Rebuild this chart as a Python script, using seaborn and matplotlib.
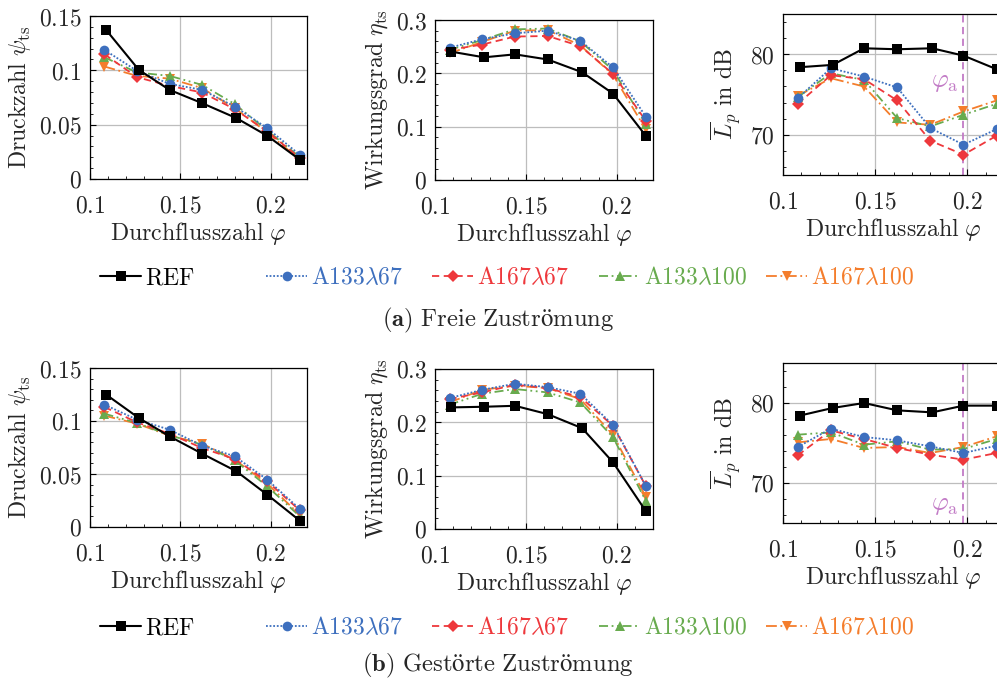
import numpy as np
import pandas as pd
import matplotlib
matplotlib.use("Agg")
import matplotlib.pyplot as plt
from matplotlib.ticker import FuncFormatter, MultipleLocator, AutoMinorLocator
import seaborn as sns

# ---------------- data ----------------
phi_ref = [0.109, 0.127, 0.144, 0.162, 0.181, 0.198, 0.216]
phi = [0.108, 0.126, 0.144, 0.162, 0.180, 0.198, 0.216]
phi_a = 0.198

series_names = ["REF", "A133λ67", "A167λ67", "A133λ100", "A167λ100"]
series_labels = [r"$\mathrm{REF}$", r"$\mathrm{A133}\lambda\mathrm{67}$", r"$\mathrm{A167}\lambda\mathrm{67}$",
                 r"$\mathrm{A133}\lambda\mathrm{100}$", r"$\mathrm{A167}\lambda\mathrm{100}$"]

# (a) Freie Zuströmung
psi_a_ref = [0.137, 0.1004, 0.082, 0.0698, 0.056, 0.0398, 0.0178]
psi_a_133_67 = [0.1188, 0.0995, 0.0876, 0.082, 0.0667, 0.0468, 0.0223]
psi_a_167_67 = [0.1148, 0.0937, 0.0857, 0.0796, 0.0643, 0.0438, 0.0193]
psi_a_133_100 = [0.112, 0.098, 0.0949, 0.0866, 0.069, 0.0447, 0.0202]
psi_a_167_100 = [0.1035, 0.0949, 0.0924, 0.0836, 0.0652, 0.0429, 0.0178]

eta_a_ref = [0.2406, 0.230, 0.2356, 0.226, 0.202, 0.162, 0.083]
eta_a_133_67 = [0.248, 0.264, 0.275, 0.280, 0.261, 0.211, 0.119]
eta_a_167_67 = [0.244, 0.254, 0.269, 0.270, 0.251, 0.199, 0.111]
eta_a_133_100 = [0.244, 0.2625, 0.2825, 0.284, 0.260, 0.206, 0.105]
eta_a_167_100 = [0.2375, 0.259, 0.280, 0.281, 0.2525, 0.197, 0.095]

lp_a_ref = [78.39, 78.68, 80.74, 80.62, 80.74, 79.83, 78.14]
lp_a_133_67 = [74.55, 78.26, 77.23, 75.87, 70.83, 68.76, 70.7]
lp_a_167_67 = [73.84, 77.4, 76.9, 74.26, 69.26, 67.52, 69.88]
lp_a_133_100 = [74.67, 77.64, 76.8, 72.07, 71.03, 72.48, 73.84]
lp_a_167_100 = [74.83, 77.02, 75.99, 71.53, 71.24, 72.89, 74.26]

# (b) Gestörte Zuströmung
psi_b_ref = [0.1248, 0.1028, 0.0855, 0.0692, 0.0525, 0.0305, 0.006]
psi_b_133_67 = [0.1154, 0.1013, 0.0918, 0.0767, 0.0667, 0.0447, 0.017]
psi_b_167_67 = [0.1132, 0.0987, 0.088, 0.0745, 0.0641, 0.0431, 0.0157]
psi_b_133_100 = [0.1069, 0.0981, 0.0865, 0.0777, 0.0629, 0.0384, 0.0101]
psi_b_167_100 = [0.105, 0.0975, 0.0862, 0.0786, 0.0635, 0.0409, 0.0116]

eta_b_ref = [0.228, 0.2292, 0.231, 0.2154, 0.189, 0.125, 0.0338]
eta_b_133_67 = [0.2455, 0.261, 0.2724, 0.266, 0.2536, 0.195, 0.081]
eta_b_167_67 = [0.2436, 0.2561, 0.2705, 0.2642, 0.2473, 0.1935, 0.0808]
eta_b_133_100 = [0.233, 0.2536, 0.2624, 0.2561, 0.2373, 0.172, 0.053]
eta_b_167_100 = [0.2373, 0.261, 0.2686, 0.2642, 0.2436, 0.1766, 0.0607]

lp_b_ref = [78.42, 79.38, 80.0, 79.08, 78.83, 79.67, 79.67]
lp_b_133_67 = [74.5, 76.79, 75.75, 75.33, 74.58, 73.75, 74.67]
lp_b_167_67 = [73.46, 76.58, 75.5, 74.38, 73.54, 72.92, 73.75]
lp_b_133_100 = [76.04, 76.33, 74.79, 75.21, 74.17, 74.25, 75.5]
lp_b_167_100 = [75.08, 75.5, 74.38, 74.5, 73.75, 74.5, 75.83]

# ---------------- style ----------------
sns.set_style("white")
plt.rcParams["mathtext.fontset"] = "cm"
plt.rcParams["font.family"] = ["DejaVu Serif"]
plt.rcParams["axes.unicode_minus"] = False

colors = ["black", "#3d6fbe", "#ee383c", "#68ab4e", "#f47d2c"]
markers = ["s", "o", "D", "^", "v"]
msizes = [7.0, 7.0, 6.0, 7.5, 7.5]
lstyles = ["-", (0, (1, 1)), (0, (4, 2.5)), (0, (5, 2, 1, 2, 1, 2)), (0, (6, 2, 1, 2))]
lwidths = [1.5, 1.3, 1.3, 1.3, 1.3]
FS_LAB = 17.2
FS_TICK = 17.0
FS_LEG = 17.0
FS_CAP = 17.8
purple = "#c27bc6"

W, H = 997, 684
fig = plt.figure(figsize=(W / 100, H / 100), dpi=100)


def rect(l, r, t, b):
    return [l / W, 1 - b / H, (r - l) / W, (b - t) / H]


def fmt(v, pos):
    return r"$%g$" % round(v, 4)


def draw_panel(ax, ys, ylim, ymajor, ylabel, vline=False, vtext_y=None):
    for i, yv in enumerate(ys):
        xs = phi_ref if i == 0 else phi
        df = pd.DataFrame({"phi": xs, "val": yv})
        sns.lineplot(data=df, x="phi", y="val", ax=ax, color=colors[i], marker=markers[i],
                     markersize=msizes[i], markeredgewidth=0, linestyle=lstyles[i],
                     linewidth=lwidths[i], label=series_labels[i], legend=False, zorder=3 + (5 - i) * 0.1)
    ax.set_xlim(0.1, 0.22)
    ax.set_ylim(*ylim)
    ax.xaxis.set_major_locator(MultipleLocator(0.05))
    ax.xaxis.set_minor_locator(AutoMinorLocator(5))
    ax.yaxis.set_major_locator(MultipleLocator(ymajor))
    ax.yaxis.set_minor_locator(AutoMinorLocator(5))
    ax.xaxis.set_major_formatter(FuncFormatter(fmt))
    ax.yaxis.set_major_formatter(FuncFormatter(fmt))
    ax.grid(True, which="major", color="#bdbdbd", linewidth=0.9)
    ax.tick_params(which="both", direction="in", bottom=True, left=True, top=False, right=False,
                   labelsize=FS_TICK, color="black")
    ax.tick_params(which="major", length=4, width=0.8)
    ax.tick_params(which="minor", length=2.5, width=0.6)
    ax.tick_params(axis="x", which="major", pad=11)
    ax.tick_params(axis="y", which="major", pad=6)
    for s in ax.spines.values():
        s.set_visible(True)
        s.set_color("black")
        s.set_linewidth(0.9)
    ax.set_xlabel(r"$\mathrm{Durchflusszahl}\ \varphi$", fontsize=FS_LAB, labelpad=2)
    ax.set_ylabel(ylabel, fontsize=FS_LAB, labelpad=4)
    if vline:
        ax.axvline(phi_a, color=purple, linestyle=(0, (4, 2.5)), linewidth=1.3, zorder=2.5)
        ax.text(phi_a - 0.0025, vtext_y, r"$\varphi_{\mathrm{a}}$", color=purple, fontsize=FS_LAB * 1.08,
                ha="right", va="center")


ylab_psi = r"$\mathrm{Druckzahl}\ \psi_{\mathrm{ts}}$"
ylab_eta = r"$\mathrm{Wirkungsgrad}\ \eta_{\mathrm{ts}}$"
ylab_lp = r"$\overline{L}_p\ \mathrm{in\ dB}$"

ax1 = fig.add_axes(rect(90, 307, 16, 179))
draw_panel(ax1, [psi_a_ref, psi_a_133_67, psi_a_167_67, psi_a_133_100, psi_a_167_100], (0, 0.15), 0.05, ylab_psi)
ax2 = fig.add_axes(rect(435, 653, 20, 180))
draw_panel(ax2, [eta_a_ref, eta_a_133_67, eta_a_167_67, eta_a_133_100, eta_a_167_100], (0, 0.3), 0.1, ylab_eta)
ax3 = fig.add_axes(rect(783, 1004, 14, 175))
draw_panel(ax3, [lp_a_ref, lp_a_133_67, lp_a_167_67, lp_a_133_100, lp_a_167_100], (65, 85), 10, ylab_lp,
           vline=True, vtext_y=76.6)

ax4 = fig.add_axes(rect(90, 307, 368, 527))
draw_panel(ax4, [psi_b_ref, psi_b_133_67, psi_b_167_67, psi_b_133_100, psi_b_167_100], (0, 0.15), 0.05, ylab_psi)
ax5 = fig.add_axes(rect(435, 653, 369, 529))
draw_panel(ax5, [eta_b_ref, eta_b_133_67, eta_b_167_67, eta_b_133_100, eta_b_167_100], (0, 0.3), 0.1, ylab_eta)
ax6 = fig.add_axes(rect(783, 1004, 363, 523))
draw_panel(ax6, [lp_b_ref, lp_b_133_67, lp_b_167_67, lp_b_133_100, lp_b_167_100], (65, 85), 10, ylab_lp,
           vline=True, vtext_y=67.3)

# legends: one entry per column, fixed column starts
handles, labels = ax1.get_legend_handles_labels()
col_x = [100, 266, 432, 599, 766]
for row_y in (278, 628):
    for i in range(5):
        leg = fig.legend([handles[i]], [labels[i]], loc="center left",
                         bbox_to_anchor=(col_x[i] / W, 1 - row_y / H), frameon=False,
                         fontsize=FS_LEG, handlelength=1.75, handletextpad=0.15, borderpad=0,
                         borderaxespad=0, numpoints=1)
        for t in leg.get_texts():
            t.set_color(colors[i])

fig.text(498 / W, 1 - 320 / H, r"$\mathbf{(a)}\ \mathrm{Freie\ Zuströmung}$", ha="center", va="center",
         fontsize=FS_CAP)
fig.text(498 / W, 1 - 665 / H, r"$\mathbf{(b)}\ \mathrm{Gestörte\ Zuströmung}$", ha="center", va="center",
         fontsize=FS_CAP)

fig.savefig("out.png", dpi=100)
